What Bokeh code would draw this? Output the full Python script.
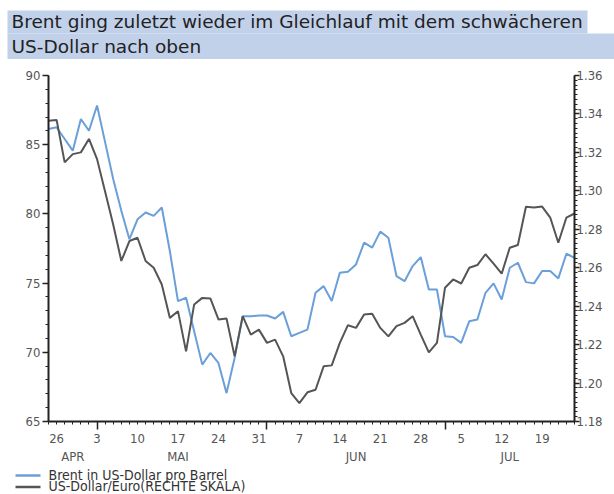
import pandas as pd
from bokeh.plotting import figure
from bokeh.layouts import column
from bokeh.models import (LinearAxis, Range1d, FixedTicker, NumeralTickFormatter,
                          ColumnDataSource)
from bokeh.core.properties import value
from bokeh.embed import file_html
from bokeh.resources import INLINE

# ---------------- data ----------------
dates = pd.bdate_range("2010-04-23", "2010-07-23")   # business days, 66 points

brent = [86.14, 86.26, 85.41, 84.57, 86.86, 86.01, 87.83, 85.17, 82.51, 80.22,
         78.17, 79.61, 80.10, 79.86, 80.46, 77.30, 73.70, 73.94, 71.52, 69.11,
         69.95, 69.23, 67.05, 69.59, 72.61, 72.61, 72.66, 72.66, 72.44, 72.92,
         71.16, 71.40, 71.64, 74.30, 74.78, 73.70, 75.75, 75.82, 76.35, 77.92,
         77.56, 78.72, 78.28, 75.51, 75.14, 76.23, 76.88, 74.54, 74.54, 71.16,
         71.11, 70.68, 72.25, 72.37, 74.30, 74.98, 73.82, 76.11, 76.47, 75.07,
         74.98, 75.87, 75.87, 75.34, 77.12, 76.83]

usd_eur = [1.3365, 1.3369, 1.3148, 1.3191, 1.3200, 1.3270, 1.3165, 1.2995, 1.2824, 1.2635,
           1.2739, 1.2756, 1.2635, 1.2600, 1.2513, 1.2339, 1.2374, 1.2165, 1.2409, 1.2443,
           1.2440, 1.2331, 1.2336, 1.2139, 1.2348, 1.2252, 1.2278, 1.2209, 1.2226, 1.2139,
           1.1948, 1.1896, 1.1952, 1.1965, 1.2087, 1.2092, 1.2209, 1.2301, 1.2287, 1.2357,
           1.2360, 1.2287, 1.2243, 1.2296, 1.2313, 1.2348, 1.2252, 1.2160, 1.2209, 1.2496,
           1.2539, 1.2518, 1.2600, 1.2614, 1.2670, 1.2621, 1.2569, 1.2704, 1.2718, 1.2917,
           1.2913, 1.2918, 1.2861, 1.2730, 1.2861, 1.2882]

week_labels = ["26", "3", "10", "17", "24", "31", "7", "14", "21", "28", "5", "12", "19"]
month_labels = ["APR", "MAI", "JUN", "JUL"]
left_ticks = [65, 70, 75, 80, 85, 90]
right_ticks = [1.18, 1.20, 1.22, 1.24, 1.26, 1.28, 1.30, 1.32, 1.34, 1.36]
title_lines = ["Brent ging zuletzt wieder im Gleichlauf mit dem schwächeren",
               "US-Dollar nach oben"]
legend_labels = ["Brent in US-Dollar pro Barrel", "US-Dollar/Euro(RECHTE SKALA)"]

# ---------------- derived positions ----------------
x = list(range(len(dates)))
mondays = [i for i, d in enumerate(dates) if d.weekday() == 0]
month_starts = [i for i in range(1, len(dates)) if dates[i].month != dates[i - 1].month]
month_pos = []
for m in sorted(set(dates.month)):
    idx = [i for i, d in enumerate(dates) if d.month == m]
    month_pos.append(int((idx[0] + idx[-1]) / 2 + 0.5))

week_map = dict(zip(mondays, week_labels))
month_map = dict(zip(month_pos, month_labels))
label_ticks = sorted(set(mondays) | set(month_pos))
label_text = {}
for k in label_ticks:
    top = week_map.get(k, "")
    bottom = month_map.get(k, "")
    label_text[k] = top + ("\n" + bottom if bottom else "")

src = ColumnDataSource(dict(x=x, brent=brent, usd=usd_eur))

FONT = "DejaVu Sans Condensed"
BLUE = "#6a9fd9"
GREY = "#555555"
LBL = "#555555"
TB = "#c2d1ea"

# ---------------- title strip (canvas y 0..59) ----------------
t = figure(width=614, height=59, x_range=Range1d(0, 614), y_range=Range1d(59, 0),
           output_backend="svg", toolbar_location=None,
           x_axis_type=None, y_axis_type=None, min_border=0)
t.frame_align = False
t.outline_line_color = None
t.quad(left=[7, 7], right=[587, 614], top=[10, 33], bottom=[33, 59],
       fill_color=TB, line_color=None)
t.text(x=[11, 11], y=[21, 46], text=title_lines, text_font=value("DejaVu Sans"),
       text_font_size="18.5px", text_color="#222222", text_baseline="middle")

# ---------------- main chart (canvas y 59..466) ----------------
p = figure(width=614, height=407, x_range=Range1d(0, len(x) - 1), y_range=Range1d(65, 90),
           output_backend="svg", toolbar_location=None,
           x_axis_type=None, y_axis_type=None,
           min_border_left=48, min_border_right=40, min_border_top=16, min_border_bottom=45)
p.extra_y_ranges = {"usd": Range1d(1.18, 1.36)}
p.outline_line_color = None


def style_axis(ax):
    ax.axis_line_color = "#222222"
    ax.axis_line_width = 2
    ax.major_tick_line_color = "#222222"
    ax.minor_tick_line_color = "#222222"
    ax.major_tick_line_width = 1.5
    ax.minor_tick_line_width = 1
    ax.major_tick_in = 0
    ax.minor_tick_in = 0
    ax.major_label_text_font = FONT
    ax.major_label_text_font_size = "13px"
    ax.major_label_text_color = LBL


yl = LinearAxis(ticker=FixedTicker(ticks=left_ticks, minor_ticks=list(range(65, 91))))
style_axis(yl)
yl.major_tick_out = 6
yl.minor_tick_out = 3
yl.major_label_standoff = 2
p.add_layout(yl, "left")

yr = LinearAxis(y_range_name="usd",
                ticker=FixedTicker(ticks=right_ticks,
                                   minor_ticks=[round(1.18 + 0.0025 * k, 4) for k in range(73)]),
                formatter=NumeralTickFormatter(format="0.00"))
style_axis(yr)
yr.major_tick_out = 5
yr.minor_tick_out = 3
yr.major_label_standoff = -3
p.add_layout(yr, "right")

# axis line with day ticks; long ticks at month starts, no labels
xb = LinearAxis(ticker=FixedTicker(ticks=month_starts, minor_ticks=x),
                major_label_overrides={m: "" for m in month_starts})
style_axis(xb)
xb.major_tick_out = 8
xb.minor_tick_out = 3
xb.major_label_text_font_size = "0px"
xb.major_label_standoff = 0
p.add_layout(xb, "below")

# Monday day numbers with month names on a second line
xw = LinearAxis(ticker=FixedTicker(ticks=label_ticks, minor_ticks=[]),
                major_label_overrides=label_text)
style_axis(xw)
xw.axis_line_color = None
xw.major_tick_line_color = None
xw.minor_tick_line_color = None
xw.major_tick_out = 0
xw.major_label_standoff = 1
p.add_layout(xw, "below")

p.line("x", "brent", source=src, color=BLUE, line_width=2)
p.line("x", "usd", source=src, y_range_name="usd", color=GREY, line_width=2)

# ---------------- legend strip (canvas y 466..494) ----------------
lg = figure(width=614, height=28, x_range=Range1d(0, 614), y_range=Range1d(494, 466),
            output_backend="svg", toolbar_location=None,
            x_axis_type=None, y_axis_type=None, min_border=0)
lg.frame_align = False
lg.outline_line_color = None
lg.segment(x0=[15, 15], x1=[40, 40], y0=[475, 486.5], y1=[475, 486.5],
           color=[BLUE, GREY], line_width=2.5)
lg.text(x=[48, 48], y=[474, 485], text=legend_labels, text_font=value(FONT),
        text_font_size="14px", text_color="#333333", text_baseline="middle")

open("out.html", "w").write(file_html(column(t, p, lg, spacing=0), INLINE))
